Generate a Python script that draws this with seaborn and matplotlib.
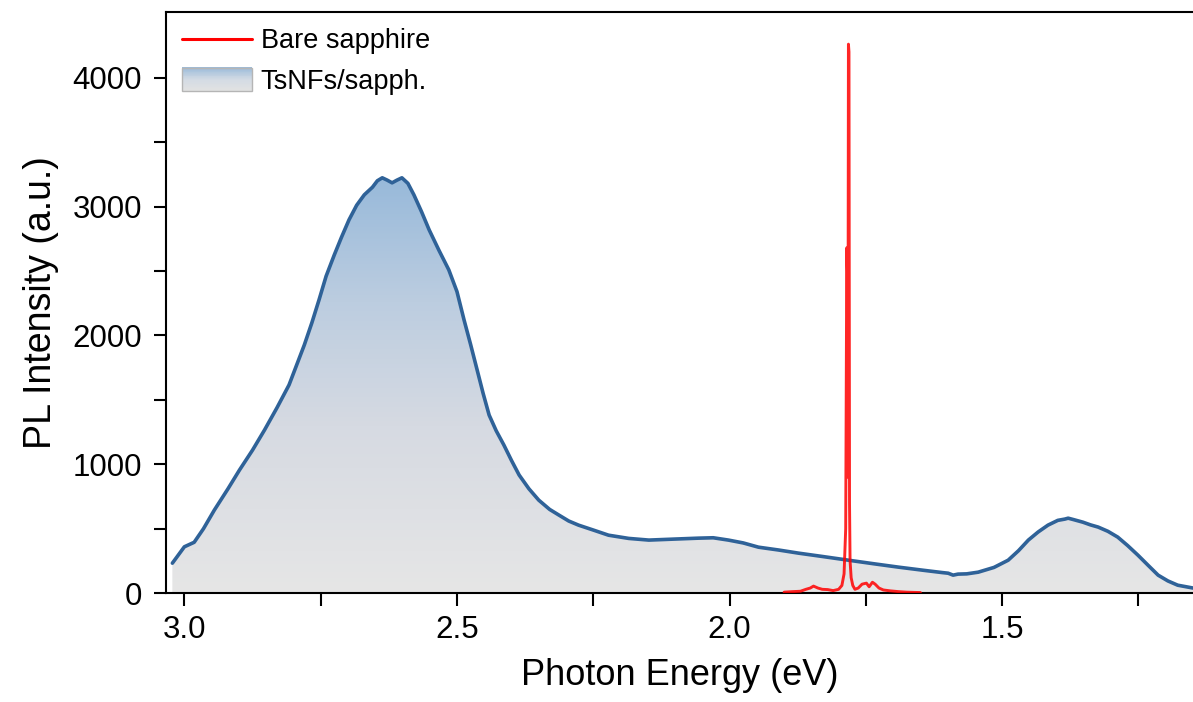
import numpy as np
import seaborn as sns
import matplotlib.pyplot as plt
from matplotlib.colors import LinearSegmentedColormap
from matplotlib.lines import Line2D
from matplotlib.patches import Rectangle
from matplotlib.legend_handler import HandlerBase

# TsNFs on sapphire
energy_film = [3.022, 3.000, 2.982, 2.965, 2.945, 2.920, 2.899, 2.875, 2.853, 2.830, 2.808,
               2.795, 2.780, 2.766, 2.753, 2.740, 2.725, 2.712, 2.698, 2.684, 2.670, 2.655,
               2.646, 2.637, 2.628, 2.619, 2.610, 2.601, 2.590, 2.579, 2.565, 2.551, 2.533,
               2.515, 2.500, 2.487, 2.475, 2.463, 2.452, 2.441, 2.428, 2.414, 2.400, 2.386,
               2.368, 2.350, 2.330, 2.313, 2.295, 2.277, 2.250, 2.222, 2.185, 2.148, 2.100,
               2.057, 2.030, 2.002, 1.975, 1.947, 1.910, 1.874, 1.830, 1.782, 1.735, 1.690,
               1.645, 1.610, 1.599, 1.590, 1.581, 1.565, 1.544, 1.515, 1.489, 1.470, 1.452,
               1.434, 1.416, 1.398, 1.385, 1.379, 1.370, 1.352, 1.338, 1.324, 1.306, 1.288,
               1.270, 1.251, 1.232, 1.214, 1.196, 1.178, 1.150]
pl_film = [233, 360, 395, 500, 645, 810, 955, 1110, 1266, 1440, 1616,
           1760, 1926, 2100, 2276, 2460, 2625, 2760, 2897, 3010, 3091, 3150,
           3200, 3223, 3205, 3184, 3205, 3223, 3180, 3091, 2960, 2819, 2660,
           2509, 2340, 2120, 1930, 1732, 1550, 1382, 1260, 1150, 1030, 917,
           810, 722, 650, 606, 560, 528, 490, 450, 425, 412, 420,
           427, 430, 412, 390, 357, 335, 311, 285, 256, 228, 202,
           178, 160, 155, 140, 148, 150, 163, 200, 256, 330, 412,
           475, 528, 565, 575, 582, 572, 551, 530, 513, 480, 435,
           370, 295, 215, 140, 95, 62, 40]

# bare sapphire
energy_bare = [1.900, 1.885, 1.870, 1.860, 1.852, 1.846, 1.838, 1.830, 1.820, 1.810,
               1.800, 1.794, 1.790, 1.787, 1.785, 1.784, 1.783, 1.782, 1.781, 1.780,
               1.779, 1.777, 1.774, 1.770, 1.764, 1.757, 1.749, 1.744, 1.738, 1.733,
               1.726, 1.718, 1.705, 1.690, 1.675, 1.660, 1.650]
pl_bare = [8, 12, 15, 30, 40, 55, 40, 30, 28, 20,
           30, 60, 150, 500, 2680, 2500, 900, 4260, 4200, 700,
           250, 120, 60, 30, 40, 70, 78, 50, 85, 70,
           40, 25, 18, 12, 8, 6, 5]

x_ticks = [3.0, 2.5, 2.0, 1.5]
y_ticks = [0, 1000, 2000, 3000, 4000]


class HandlerGradient(HandlerBase):
    def create_artists(self, legend, orig_handle, xdescent, ydescent,
                       width, height, fontsize, trans):
        cm = LinearSegmentedColormap.from_list('leg', ['#e2e2e2', '#d4dbe4', '#9dbcda'])
        n = 30
        x0, y0 = -xdescent, -ydescent
        h = height * 1.25
        y0 = y0 - (h - height) / 2
        arts = []
        for i in range(n):
            arts.append(Rectangle((x0, y0 + h * i / n), width, h / n + 0.3,
                                  facecolor=cm(i / (n - 1)), edgecolor='none',
                                  transform=trans))
        arts.append(Rectangle((x0, y0), width, h, facecolor='none',
                              edgecolor='#b5b5b5', lw=1, transform=trans))
        return arts


sns.set_style("ticks")
plt.rcParams['font.family'] = ['Liberation Sans', 'DejaVu Sans']
plt.rcParams['text.color'] = 'black'

fig = plt.figure(figsize=(11.93, 7.02), dpi=100)
ax = fig.add_axes([0.139, 0.155, 0.861, 0.828])

# gradient fill under the film curve
cmap = LinearSegmentedColormap.from_list(
    'fade', [(0, '#e6e6e6'), (0.4, '#d6dae2'), (0.7, '#bccde0'), (1, '#97b9da')])
grad = np.linspace(0, 1, 256).reshape(-1, 1)
im = ax.imshow(grad, cmap=cmap, aspect='auto', origin='lower',
               extent=[3.1, 1.1, 0, 3230], zorder=1)
poly = ax.fill_between(energy_film, pl_film, 0, facecolor='none', edgecolor='none')
im.set_clip_path(poly.get_paths()[0], transform=ax.transData)

sns.lineplot(x=energy_film, y=pl_film, ax=ax, color='#2f6298', lw=2.6, sort=False, zorder=3)
sns.lineplot(x=energy_bare, y=pl_bare, ax=ax, color='red', lw=2.1, alpha=0.85,
             sort=False, zorder=4)

ax.set_xlim(3.034, 1.15)
ax.set_ylim(0, 4510)
ax.set_xticks(x_ticks)
ax.set_xticklabels([f'{t:.1f}' for t in x_ticks])
ax.set_xticks([2.75, 2.25, 1.75, 1.25], minor=True)
ax.set_yticks(y_ticks)
ax.set_yticks([500, 1500, 2500, 3500], minor=True)

ax.tick_params(which='both', direction='out', width=1.5, length=9, labelsize=22.5,
               color='black', labelcolor='black')
ax.tick_params(axis='x', pad=7)
ax.tick_params(axis='y', pad=8)
for s in ['left', 'top', 'bottom']:
    ax.spines[s].set_linewidth(1.5)
    ax.spines[s].set_color('black')
ax.spines['right'].set_visible(False)

ax.set_xlabel('Photon Energy (eV)', fontsize=26, labelpad=9, color='black')
ax.set_ylabel('PL Intensity (a.u.)', fontsize=27, labelpad=10, color='black')

handles = [Line2D([], [], color='red', lw=2.2), Rectangle((0, 0), 1, 1)]
ax.legend(handles, ['Bare sapphire', 'TsNFs/sapph.'], loc='upper left',
          frameon=False, fontsize=19.5, handlelength=2.6, handletextpad=0.3,
          labelspacing=0.55, borderaxespad=0.3, borderpad=0.3,
          handler_map={Rectangle: HandlerGradient()})

fig.savefig('out.png', dpi=100)
